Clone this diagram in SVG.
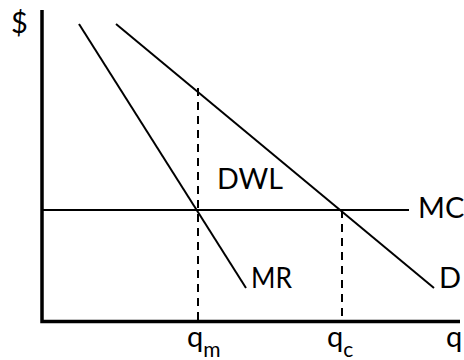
<svg xmlns="http://www.w3.org/2000/svg" width="464" height="360" viewBox="0 0 464 360">
<style>
.ax{stroke:#000;stroke-width:3.5;fill:none}
.ln{stroke:#000;stroke-width:2;fill:none}
.ds{stroke:#000;stroke-width:2;fill:none;stroke-dasharray:8,6}
text{font-family:Lato,"Open Sans","DejaVu Sans",sans-serif;font-size:29px;fill:#000}
.sub{font-size:21px}
</style>
<rect width="464" height="360" fill="#fff"/>
<g id="connectors">
<path class="ax" d="M42,10 V321.5 H460"/>
<line id="mr-line" class="ln" x1="79" y1="24" x2="246" y2="288"/>
<line id="d-line" class="ln" x1="116" y1="24" x2="434" y2="288"/>
<line id="mc-line" class="ln" x1="42" y1="210" x2="409" y2="210"/>
<line class="ds" x1="198" y1="88" x2="198" y2="321"/>
<line class="ds" x1="342" y1="210" x2="342" y2="321"/>
</g>
<g id="dollar"><text x="11" y="33" font-size="31">$</text></g>
<g id="dwl"><text x="217" y="189" textLength="66" lengthAdjust="spacingAndGlyphs">DWL</text></g>
<g id="mc"><text x="418" y="218" font-size="26">MC</text></g>
<g id="mr"><text x="251" y="288" textLength="41" lengthAdjust="spacingAndGlyphs">MR</text></g>
<g id="d"><text x="439" y="288">D</text></g>
<g id="qm"><text x="187" y="347">q<tspan class="sub" dy="10">m</tspan></text></g>
<g id="qc"><text x="327" y="347">q<tspan class="sub" dy="10">c</tspan></text></g>
<g id="q"><text x="446" y="347">q</text></g>
</svg>
